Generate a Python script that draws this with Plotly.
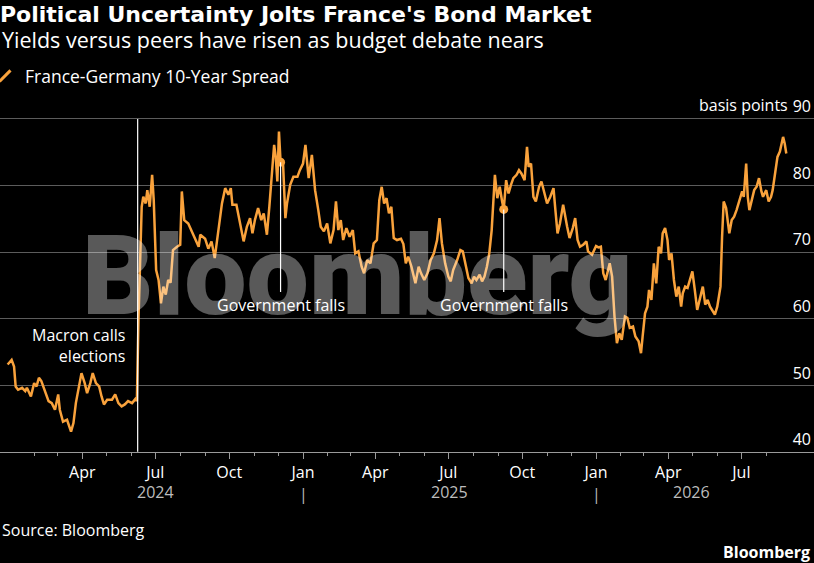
import pandas as pd
import plotly.graph_objects as go

# Data: France-Germany 10-year spread, basis points
START = pd.Timestamp("2024-01-01")
day_offsets = [
    -2, 3, 6, 8, 11, 16, 20, 22, 27, 31, 34, 37, 40, 45, 49, 53, 57, 61, 63, 67,
    72, 77, 80, 83, 87, 90, 94, 97, 101, 104, 108, 112, 115, 118, 122, 128, 132, 136, 140, 144,
    148, 153, 157, 159, 161, 165, 167, 170, 172, 175, 178, 180, 183, 186, 189, 192, 195, 198, 201, 204,
    209, 213, 215, 218, 223, 227, 231, 236, 238, 244, 248, 252, 256, 261, 265, 269, 273, 276, 278, 283,
    288, 292, 296, 300, 303, 306, 310, 314, 317, 321, 324, 327, 330, 332, 334, 336, 338, 341, 344, 346,
    350, 354, 359, 362, 366, 369, 373, 377, 381, 385, 388, 392, 396, 400, 404, 407, 410, 413, 416, 420,
    424, 428, 431, 435, 439, 442, 446, 450, 454, 458, 461, 464, 467, 470, 473, 476, 479, 483, 488, 491,
    494, 497, 501, 506, 510, 513, 517, 521, 525, 529, 533, 536, 539, 543, 547, 550, 553, 558, 562, 565,
    568, 572, 576, 579, 582, 586, 589, 592, 595, 598, 601, 603, 605, 608, 611, 614, 616, 619, 622, 625,
    628, 632, 635, 638, 642, 645, 647, 650, 653, 656, 660, 663, 668, 670, 674, 678, 680, 683, 686, 690,
    695, 698, 702, 705, 708, 711, 715, 719, 721, 726, 731, 734, 737, 740, 743, 748, 751, 754, 757, 760,
    763, 767, 770, 773, 777, 780, 784, 787, 789, 792, 795, 797, 800, 803, 806, 809, 812, 814, 817, 820,
    822, 825, 828, 831, 834, 837, 839, 842, 845, 848, 851, 854, 857, 861, 864, 867, 870, 873, 876, 879,
    882, 886, 888, 890, 893, 895, 897, 900, 903, 906, 910, 913, 915, 918, 920, 922, 925, 928, 931, 934,
    937, 939, 943, 946, 949, 951, 954, 957, 960, 964, 966, 968,
]
spread_bp = [
    53.1, 53.8, 52.8, 49.8, 49.3, 49.6, 49.1, 49.6, 48.3, 50.3, 49.8, 51.1, 50.6, 48.8, 47.6, 47.3, 46.3, 48.6, 46.3, 44.5,
    44.8, 43.0, 44.3, 47.3, 49.8, 51.8, 50.3, 48.8, 50.3, 51.8, 50.3, 49.8, 48.3, 47.1, 47.8, 47.8, 48.6, 47.3, 46.8, 47.1,
    47.6, 47.3, 47.9, 47.6, 59.8, 76.8, 78.3, 77.3, 79.3, 76.8, 81.6, 77.8, 67.3, 65.8, 62.3, 64.8, 63.6, 65.8, 65.4, 70.3,
    70.8, 71.1, 79.1, 74.8, 74.3, 73.3, 72.1, 70.8, 72.6, 72.0, 70.5, 71.6, 69.1, 73.3, 77.3, 79.6, 78.6, 79.6, 77.1, 77.1,
    73.8, 71.6, 73.8, 75.1, 72.8, 74.8, 76.6, 74.8, 75.8, 72.6, 76.8, 81.3, 86.1, 84.3, 80.6, 88.1, 83.5, 83.6, 75.1, 77.3,
    80.1, 81.3, 81.3, 82.3, 83.3, 86.1, 81.1, 84.6, 79.3, 76.3, 73.8, 73.1, 74.3, 71.3, 73.3, 77.6, 73.3, 74.8, 71.8, 73.6,
    72.3, 73.3, 69.8, 70.1, 67.8, 66.8, 68.8, 68.3, 71.3, 71.8, 77.8, 79.8, 77.3, 78.1, 75.8, 76.8, 72.1, 71.8, 72.0, 71.2,
    68.3, 69.3, 67.8, 65.3, 67.8, 66.8, 65.8, 66.8, 68.8, 69.8, 71.8, 75.1, 71.3, 68.3, 66.3, 65.6, 67.3, 68.8, 70.3, 70.1,
    68.3, 66.1, 65.3, 66.3, 65.8, 66.6, 65.6, 66.3, 67.8, 69.8, 73.3, 77.8, 81.6, 78.1, 79.8, 77.6, 76.4, 80.8, 78.8, 80.1,
    81.1, 81.6, 82.3, 81.8, 80.8, 85.8, 82.8, 83.3, 78.3, 77.6, 79.8, 80.6, 78.3, 77.3, 78.3, 79.6, 76.8, 72.8, 74.3, 77.1,
    73.8, 72.1, 73.6, 75.1, 71.8, 70.8, 71.1, 71.6, 70.1, 69.6, 70.9, 70.7, 70.8, 66.8, 65.8, 68.3, 66.3, 60.3, 56.3, 57.8,
    56.8, 60.3, 60.1, 58.6, 58.8, 57.3, 56.6, 54.8, 57.3, 60.8, 61.8, 64.3, 62.8, 68.3, 65.3, 70.8, 69.8, 72.8, 73.6, 71.8,
    68.8, 69.8, 65.8, 63.3, 64.8, 61.8, 63.8, 64.8, 64.6, 65.8, 67.1, 64.3, 61.3, 63.3, 64.8, 62.1, 62.8, 61.8, 61.1, 60.6,
    61.8, 64.8, 72.3, 77.6, 76.6, 74.3, 72.8, 74.8, 75.3, 76.3, 77.8, 79.1, 78.3, 83.3, 78.3, 76.3, 77.8, 79.3, 79.8, 81.1,
    79.1, 78.3, 79.3, 77.6, 78.3, 79.3, 81.8, 84.3, 85.1, 87.3, 86.3, 84.8,
]

# Events marked on the chart
macron_date = "2024-06-09"
macron_label = "Macron calls<br>elections"
fall_dates = ["2024-12-04", "2025-09-08"]
fall_values = [83.5, 76.4]
fall_label = "Government falls"
fall_label_level = 62.1  # bp level where the label text sits

y_ticks = [40, 50, 60, 70, 80, 90]
y_unit = "basis points"
quarter_ticks = pd.date_range("2024-04-01", "2026-07-01", freq="QS")
month_ticks = pd.date_range("2024-02-01", "2026-08-01", freq="MS")

ORANGE = "#f9a23c"
FONT = "Open Sans"
GREY = "#9a9a9a"

dates = START + pd.to_timedelta(day_offsets, unit="D")

fig = go.Figure()

fig.add_trace(
    go.Scatter(
        x=dates,
        y=spread_bp,
        mode="lines",
        line=dict(color=ORANGE, width=2.5),
        showlegend=False,
        hovertemplate="%{x|%d %b %Y}: %{y:.1f} bp<extra></extra>",
    )
)

# dots where the governments fell
fig.add_trace(
    go.Scatter(
        x=fall_dates,
        y=fall_values,
        mode="markers",
        marker=dict(color=ORANGE, size=9),
        showlegend=False,
        hoverinfo="skip",
    )
)

# legend entry with a slash key
fig.add_trace(
    go.Scatter(
        x=[None],
        y=[None],
        mode="markers",
        marker=dict(symbol="line-ne", size=11, line=dict(color=ORANGE, width=3)),
        name="France-Germany 10-Year Spread",
    )
)

annotations = []

# watermark
annotations.append(
    dict(
        text="Bloomberg",
        xref="paper", yref="paper", x=0.438, y=0.480,
        xanchor="center", yanchor="middle",
        showarrow=False,
        font=dict(family="Roboto", size=111, weight=900,
                  color="rgba(255,255,255,0.35)"),
    )
)

annotations.append(
    dict(
        text="Yields versus peers have risen as budget debate nears",
        xref="paper", yref="paper", x=0, y=1.125,
        xanchor="left", yanchor="middle", showarrow=False,
        font=dict(family=FONT, size=21.5, color="white"),
    )
)

# unit next to the top tick label
annotations.append(
    dict(
        text=y_unit, xref="paper", yref="y", x=1, y=max(y_ticks),
        xanchor="right", yanchor="middle", xshift=-24, yshift=13.5,
        showarrow=False,
        font=dict(family=FONT, size=16, color="white"),
    )
)

annotations.append(
    dict(
        text=macron_label,
        x=macron_date, xref="x", y=0.289, yref="paper",
        xanchor="right", yanchor="middle", xshift=-11, align="right",
        showarrow=False,
        font=dict(family=FONT, size=16, color="white"),
    )
)

for d, v in zip(fall_dates, fall_values):
    annotations.append(
        dict(
            text=fall_label, x=d, y=v, xref="x", yref="y",
            ax=d, ay=fall_label_level, axref="x", ayref="y",
            showarrow=True, arrowhead=0, arrowwidth=1.2, arrowcolor="white",
            font=dict(family=FONT, size=16, color="white"),
        )
    )

# year row below the month labels
years = [2024, 2025, 2026]
for yr in years:
    first = max(pd.Timestamp(f"{yr}-01-01"), dates[0])
    last = min(pd.Timestamp(f"{yr}-12-31"), dates[-1])
    mid = first + (last - first) / 2
    annotations.append(
        dict(
            text=str(yr), x=mid, xref="x", y=-0.109, yref="paper",
            yanchor="middle", showarrow=False,
            font=dict(family=FONT, size=16, color="#bdbdbd"),
        )
    )
for yr in years[1:]:
    annotations.append(
        dict(
            text="|", x=f"{yr}-01-01", xref="x", y=-0.1144, yref="paper",
            yanchor="middle", showarrow=False,
            font=dict(family=FONT, size=16, color="#bdbdbd"),
        )
    )

annotations.append(
    dict(
        text="Source: Bloomberg", xref="paper", yref="paper", x=0, y=-0.2125,
        xanchor="left", yanchor="middle", showarrow=False,
        font=dict(family=FONT, size=16, color="white"),
    )
)
annotations.append(
    dict(
        text="<b>Bloomberg</b>", xref="paper", yref="paper", x=1, y=-0.2725,
        xanchor="right", yanchor="middle", xshift=-2, showarrow=False,
        font=dict(family=FONT, size=16, color="white"),
    )
)

fig.update_layout(
    width=814,
    height=563,
    paper_bgcolor="black",
    plot_bgcolor="black",
    margin=dict(l=0, r=0, t=85, b=111),
    font=dict(family=FONT, color="white", size=16),
    title=dict(
        text="<b>Political Uncertainty Jolts France's Bond Market</b>",
        x=0, xanchor="left", xref="container",
        y=0.975, yanchor="middle", yref="container",
        font=dict(family="DejaVu Sans", size=22, color="white"),
    ),
    legend=dict(
        orientation="h", x=0, xanchor="left", y=1.0245, yanchor="middle",
        indentation=-15,
        font=dict(family=FONT, size=17.5, color="white"),
        bgcolor="rgba(0,0,0,0)",
    ),
    xaxis=dict(
        range=["2023-12-20 12:00", "2026-09-29 12:00"],
        tickvals=quarter_ticks,
        ticktext=[d.strftime("%b") for d in quarter_ticks],
        ticks="outside", ticklen=6, tickcolor=GREY, tickwidth=1,
        minor=dict(tickvals=month_ticks, ticks="outside", ticklen=3,
                   tickcolor=GREY, showgrid=False),
        showgrid=False, zeroline=False,
        showline=True, linecolor=GREY, linewidth=1,
        tickfont=dict(family=FONT, size=16, color="white"),
    ),
    yaxis=dict(
        range=[39.95, 95.1],
        side="right",
        tickvals=y_ticks,
        ticklabelposition="inside top",
        ticklabelshift=-1,
        ticks="",
        showgrid=True, gridcolor="#5c5c5c", gridwidth=1,
        zeroline=False,
        tickfont=dict(family=FONT, size=16, color="white"),
    ),
    shapes=[
        dict(type="line", xref="x", yref="y", x0=macron_date, x1=macron_date,
             y0=40, y1=90, line=dict(color="white", width=1.2), layer="above")
    ],
    annotations=annotations,
)

fig.write_html(
    "out.html",
    config={"displayModeBar": False},
    post_script="document.body.style.margin='0';document.body.style.background='black';",
)
